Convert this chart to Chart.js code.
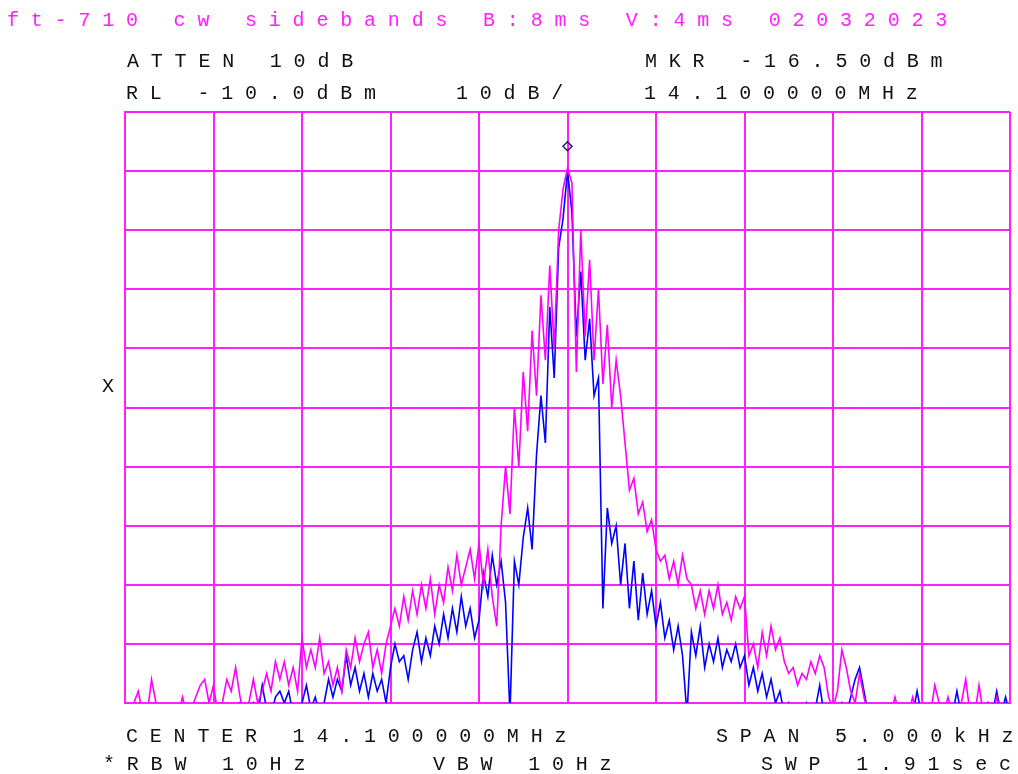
<!DOCTYPE html>
<html>
<head>
<meta charset="utf-8">
<script src="https://cdn.jsdelivr.net/npm/chart.js@4"></script>
<style>
  html, body { margin: 0; padding: 0; background: #fff; }
  #wrap { position: relative; width: 1018px; height: 774px; overflow: hidden; }
  #plot { position: absolute; left: 0; top: 0; }
  .lbl {
    position: absolute; white-space: pre; font-family: "Liberation Mono", "DejaVu Sans Mono", monospace;
    font-size: 20px; line-height: 20px; letter-spacing: 11.8px; color: #111;
  }
  .mag { color: #ff20ff; }
</style>
</head>
<body>
<div id="wrap">
  <canvas id="plot" width="1018" height="774"></canvas>
  <div class="lbl mag" style="left:7px;top:11px">ft-710 cw sidebands B:8ms V:4ms 02032023</div>
  <div class="lbl" style="left:127px;top:52px">ATTEN 10dB</div>
  <div class="lbl" style="left:645px;top:52px">MKR -16.50dBm</div>
  <div class="lbl" style="left:126px;top:84px">RL -10.0dBm</div>
  <div class="lbl" style="left:456px;top:84px">10dB/</div>
  <div class="lbl" style="left:644px;top:84px">14.100000MHz</div>
  <div class="lbl" style="left:102px;top:377px">X</div>
  <div class="lbl" style="left:126px;top:727px">CENTER 14.100000MHz</div>
  <div class="lbl" style="left:716px;top:727px">SPAN 5.000kHz</div>
  <div class="lbl" style="left:103px;top:755px">*RBW 10Hz</div>
  <div class="lbl" style="left:433px;top:755px">VBW 10Hz</div>
  <div class="lbl" style="left:761px;top:755px">SWP 1.91sec</div>
</div>
<script>
/* sweep: 5 kHz span around 14.100000 MHz, 201 points, offsets in Hz */
const spanHz = 5000;
const sweepPoints = 201;
const refLevel = -10;   // top of screen, dBm
const bottomLevel = -110;

// trace A (magenta) in dBm, one value per sweep point
const traceA = [
  -112,-112,-110,-108,-112,-112,-106,-110,-112,-112,
  -112,-112,-112,-109,-112,-111,-109,-107,-106,-110,
  -107,-112,-110,-106,-108,-104,-109,-112,-110,-106,
  -110,-108,-105,-108,-103,-106,-103,-107,-104,-108,
  -99,-104,-101,-104,-99,-105,-103,-107,-104,-108,
  -101,-104,-99,-103,-100,-98,-104,-101,-105,-100,
  -97,-94,-97,-92,-96,-91,-95,-90,-94,-89,
  -95,-90,-93,-87,-91,-85,-90,-87,-84,-89,
  -83,-90,-84,-92,-97,-80,-70,-78,-60,-70,
  -54,-64,-47,-58,-41,-52,-36,-50,-30,-23,
  -19.5,-22,-54,-30,-48,-35,-52,-40,-56,-46,
  -60,-52,-58,-66,-74,-72,-78,-76,-81,-79,
  -84,-86,-85,-89,-86,-90,-85,-89,-90,-94,
  -91,-95,-91,-94,-90,-95,-93,-96,-92,-94,
  -92,-102,-100,-104,-98,-102,-97,-101,-99,-103,
  -105,-104,-107,-105,-106,-103,-105,-102,-104,-109,
  -111,-108,-101,-104,-108,-110,-105,-109,-112,-112,
  -112,-112,-112,-112,-109,-112,-112,-112,-109,-112,
  -112,-112,-112,-107,-110,-112,-109,-112,-112,-110,
  -106,-112,-112,-107,-112,-110,-112,-109,-112,-110,-112
];

// trace B (blue) in dBm
const traceB = [
  -112,-112,-112,-112,-112,-112,-112,-112,-112,-112,
  -112,-112,-112,-112,-112,-111,-112,-112,-112,-112,
  -112,-112,-112,-112,-112,-112,-110,-112,-112,-110,
  -112,-107,-111,-112,-109,-108,-110,-108,-112,-112,
  -110,-107,-111,-109,-112,-110,-106,-109,-106,-108,
  -102,-107,-104,-108,-105,-109,-105,-108,-106,-110,
  -104,-100,-103,-102,-106,-101,-98,-103,-99,-102,
  -97,-100,-95,-99,-94,-98,-92,-97,-94,-99,
  -96,-88,-92,-85,-90,-86,-93,-112,-86,-90,
  -82,-77,-84,-68,-58,-66,-43,-55,-33,-28,
  -20,-27,-48,-37,-52,-45,-58,-55,-94,-77,
  -83,-80,-90,-83,-94,-86,-96,-88,-95,-91,
  -97,-93,-99,-96,-101,-97,-102,-112,-98,-102,
  -97,-104,-100,-103,-99,-104,-101,-103,-100,-104,
  -102,-107,-104,-108,-105,-109,-106,-110,-108,-112,
  -110,-112,-111,-112,-110,-112,-111,-107,-112,-112,
  -111,-112,-110,-112,-109,-106,-104,-108,-112,-112,
  -112,-112,-112,-112,-112,-112,-112,-112,-112,-108,
  -112,-112,-112,-112,-112,-112,-112,-112,-108,-112,
  -112,-112,-112,-112,-112,-110,-112,-108,-112,-109,-112
];

// marker position (offset Hz, dBm)
const markerFreq = [0];
const markerLevel = [-15.8];

const gridColor = '#ff20ff';
const stepHz = spanHz / (sweepPoints - 1);
function toPoints(trace){
    return trace.map((v, i) => ({x: -spanHz / 2 + i * stepHz, y: v}));
}

ctx = document.getElementById("plot").getContext("2d");
plot = new Chart(ctx, {
    type: "line",
    data: {
        datasets: [
        {
            type: "scatter",
            data: markerFreq.map((f, i) => ({x: f, y: markerLevel[i]})),
            pointStyle: 'rectRot',
            radius: 4.5,
            borderColor: '#202060',
            backgroundColor: 'rgba(0,0,0,0)',
            borderWidth: 1.5,
            clip: false
        },
        {
            data: toPoints(traceA),
            borderColor: '#ff00ff',
            borderWidth: 1.6,
            pointRadius: 0,
            tension: 0,
            fill: false
        },
        {
            data: toPoints(traceB),
            borderColor: '#0000ff',
            borderWidth: 1.6,
            pointRadius: 0,
            tension: 0,
            fill: false
        }]
    },
    options: {
        responsive: false,
        animation: false,
        events: [],
        layout: {padding: {left: 125, top: 112, right: 8, bottom: 71}},
        scales: {
            x: {
                type: "linear",
                min: -spanHz / 2,
                max: spanHz / 2,
                ticks: {display: false, stepSize: spanHz / 10},
                grid: {color: gridColor, lineWidth: 2, drawTicks: false},
                border: {color: gridColor, width: 2}
            },
            y: {
                min: bottomLevel,
                max: refLevel,
                ticks: {display: false, stepSize: 10},
                grid: {color: gridColor, lineWidth: 2, drawTicks: false},
                border: {color: gridColor, width: 2}
            }
        },
        plugins: {
            legend: {display: false},
            tooltip: {enabled: false}
        }
    }
});
</script>
</body>
</html>
